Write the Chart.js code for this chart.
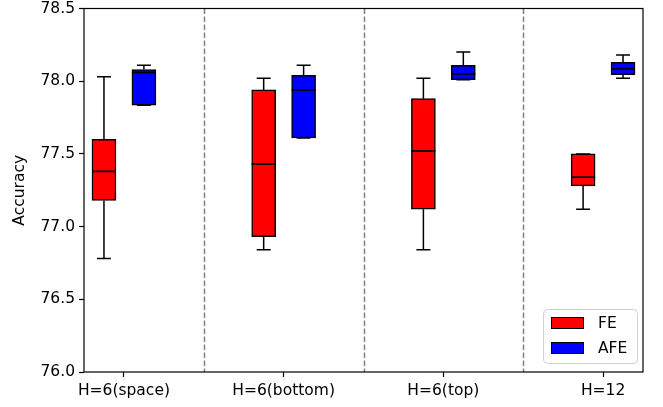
<!DOCTYPE html>
<html>
<head>
<meta charset="utf-8">
<script src="https://cdn.jsdelivr.net/npm/chart.js@4.4.0/dist/chart.umd.min.js"></script>
<style>
  html, body { margin: 0; padding: 0; background: #fff; }
  #wrap { width: 663px; height: 407px; }
</style>
</head>
<body>
<div id="wrap"><canvas id="grafico" width="663" height="407"></canvas></div>
<script>
// categorias del eje x
const categorias = ['H=6(space)', 'H=6(bottom)', 'H=6(top)', 'H=12'];

// FE (rojo): bigote inferior, q1, mediana, q3, bigote superior
const feMin = [76.78, 76.84, 76.84, 77.12];
const feQ1  = [77.18, 76.93, 77.12, 77.28];
const feMed = [77.38, 77.43, 77.52, 77.34];
const feQ3  = [77.60, 77.94, 77.88, 77.50];
const feMax = [78.03, 78.02, 78.02, 77.50];

// AFE (azul)
const afeMin = [77.835, 77.61, 78.01, 78.02];
const afeQ1  = [77.835, 77.61, 78.01, 78.045];
const afeMed = [78.06, 77.94, 78.05, 78.085];
const afeQ3  = [78.08, 78.04, 78.11, 78.13];
const afeMax = [78.11, 78.11, 78.20, 78.18];

const yTicks = [76.0, 76.5, 77.0, 77.5, 78.0, 78.5];

const fuente = 'DejaVu Sans';
const tam = 15.5;

const series = [
    { label: 'FE', color: '#ff0000', offset: -0.125, min: feMin, q1: feQ1, med: feMed, q3: feQ3, max: feMax },
    { label: 'AFE', color: '#0000ff', offset: 0.125, min: afeMin, q1: afeQ1, med: afeMed, q3: afeQ3, max: afeMax }
];

// bigotes, medianas, separadores, marco y leyenda
const extrasCaja = {
    id: 'extrasCaja',
    beforeDatasetsDraw(chart) {
        const ctx = chart.ctx;
        const a = chart.chartArea;
        const x = chart.scales.x;
        ctx.save();
        ctx.strokeStyle = '#808080';
        ctx.lineWidth = 1.5;
        ctx.setLineDash([5.5, 2.5]);
        for (let i = 0; i < categorias.length - 1; i++) {
            const px = Math.round(x.getPixelForValue(i + 0.5)) + 0.5;
            ctx.beginPath();
            ctx.moveTo(px, a.top);
            ctx.lineTo(px, a.bottom);
            ctx.stroke();
        }
        ctx.restore();
    },
    afterDatasetsDraw(chart) {
        const ctx = chart.ctx;
        const y = chart.scales.y;
        ctx.save();
        ctx.strokeStyle = '#000';
        series.forEach((s, i) => {
            const meta = chart.getDatasetMeta(i);
            meta.data.forEach((bar, j) => {
                const cx = bar.x;
                const w = bar.width;
                // bigotes
                ctx.lineWidth = 1.5;
                ctx.beginPath();
                ctx.moveTo(cx, y.getPixelForValue(s.q3[j]));
                ctx.lineTo(cx, y.getPixelForValue(s.max[j]));
                ctx.moveTo(cx, y.getPixelForValue(s.q1[j]));
                ctx.lineTo(cx, y.getPixelForValue(s.min[j]));
                ctx.moveTo(cx - 7, y.getPixelForValue(s.max[j]));
                ctx.lineTo(cx + 7, y.getPixelForValue(s.max[j]));
                ctx.moveTo(cx - 7, y.getPixelForValue(s.min[j]));
                ctx.lineTo(cx + 7, y.getPixelForValue(s.min[j]));
                ctx.stroke();
                // mediana
                ctx.lineWidth = 1.8;
                ctx.beginPath();
                ctx.moveTo(cx - w / 2, y.getPixelForValue(s.med[j]));
                ctx.lineTo(cx + w / 2, y.getPixelForValue(s.med[j]));
                ctx.stroke();
            });
        });
        ctx.restore();
    },
    afterDraw(chart) {
        const ctx = chart.ctx;
        const a = chart.chartArea;
        ctx.save();
        // marco
        ctx.strokeStyle = '#000';
        ctx.lineWidth = 1.2;
        ctx.strokeRect(a.left, a.top, a.right - a.left, a.bottom - a.top);

        // leyenda
        const lw = 94, lh = 54;
        const lx = a.right - 6 - lw;
        const ly = a.bottom - 9 - lh;
        ctx.fillStyle = 'rgba(255,255,255,0.8)';
        ctx.strokeStyle = '#d0d0d0';
        ctx.lineWidth = 1;
        ctx.beginPath();
        ctx.roundRect(lx + 0.5, ly + 0.5, lw, lh, 4);
        ctx.fill();
        ctx.stroke();
        ctx.font = tam + 'px "' + fuente + '"';
        ctx.textBaseline = 'middle';
        series.forEach((s, i) => {
            const ey = ly + 14 + i * 25;
            ctx.fillStyle = s.color;
            ctx.fillRect(lx + 8, ey - 6, 33, 12);
            ctx.strokeStyle = '#000';
            ctx.lineWidth = 1;
            ctx.strokeRect(lx + 8.5, ey - 5.5, 32, 11);
            ctx.fillStyle = '#000';
            ctx.fillText(s.label, lx + 55, ey + 1);
        });
        ctx.restore();
    }
};

const datasets = series.map(s => ({
    label: s.label,
    data: categorias.map((c, j) => ({ x: j + s.offset, y: [s.q1[j], s.q3[j]] })),
    backgroundColor: s.color,
    borderColor: '#000',
    borderWidth: 1.5,
    borderSkipped: false,
    barThickness: 24,
    grouped: false
}));

new Chart(document.getElementById('grafico'), {
    type: 'bar',
    data: { datasets: datasets },
    plugins: [extrasCaja],
    options: {
        responsive: false,
        animation: false,
        devicePixelRatio: 1,
        layout: { padding: { top: 8.5, right: 20, left: 0, bottom: 0 } },
        plugins: {
            legend: { display: false },
            tooltip: { enabled: false }
        },
        scales: {
            x: {
                type: 'linear',
                min: -0.25,
                max: 3.25,
                offset: false,
                afterBuildTicks: s => { s.ticks = categorias.map((c, i) => ({ value: i })); },
                afterFit: s => { s.height = 35; s.paddingLeft = 0; s.paddingRight = 0; },
                ticks: {
                    color: '#000',
                    font: { family: fuente, size: tam },
                    padding: 5,
                    maxRotation: 0,
                    autoSkip: false,
                    callback: v => categorias[v]
                },
                grid: {
                    offset: false,
                    drawOnChartArea: false,
                    drawTicks: true,
                    tickLength: 5,
                    tickColor: '#000',
                    tickWidth: 1.2
                },
                border: { display: false }
            },
            y: {
                min: 76,
                max: 78.5,
                afterBuildTicks: s => { s.ticks = yTicks.map(v => ({ value: v })); },
                afterFit: s => { s.width = 84; s.paddingTop = 0; s.paddingBottom = 0; },
                ticks: {
                    color: '#000',
                    font: { family: fuente, size: tam },
                    padding: 4,
                    callback: v => v.toFixed(1)
                },
                grid: {
                    drawOnChartArea: false,
                    drawTicks: true,
                    tickLength: 5,
                    tickColor: '#000',
                    tickWidth: 1.2
                },
                border: { display: false },
                title: {
                    display: true,
                    text: 'Accuracy',
                    color: '#000',
                    font: { family: fuente, size: tam },
                    padding: { top: 11, bottom: 0 }
                }
            }
        }
    }
});
</script>
</body>
</html>
